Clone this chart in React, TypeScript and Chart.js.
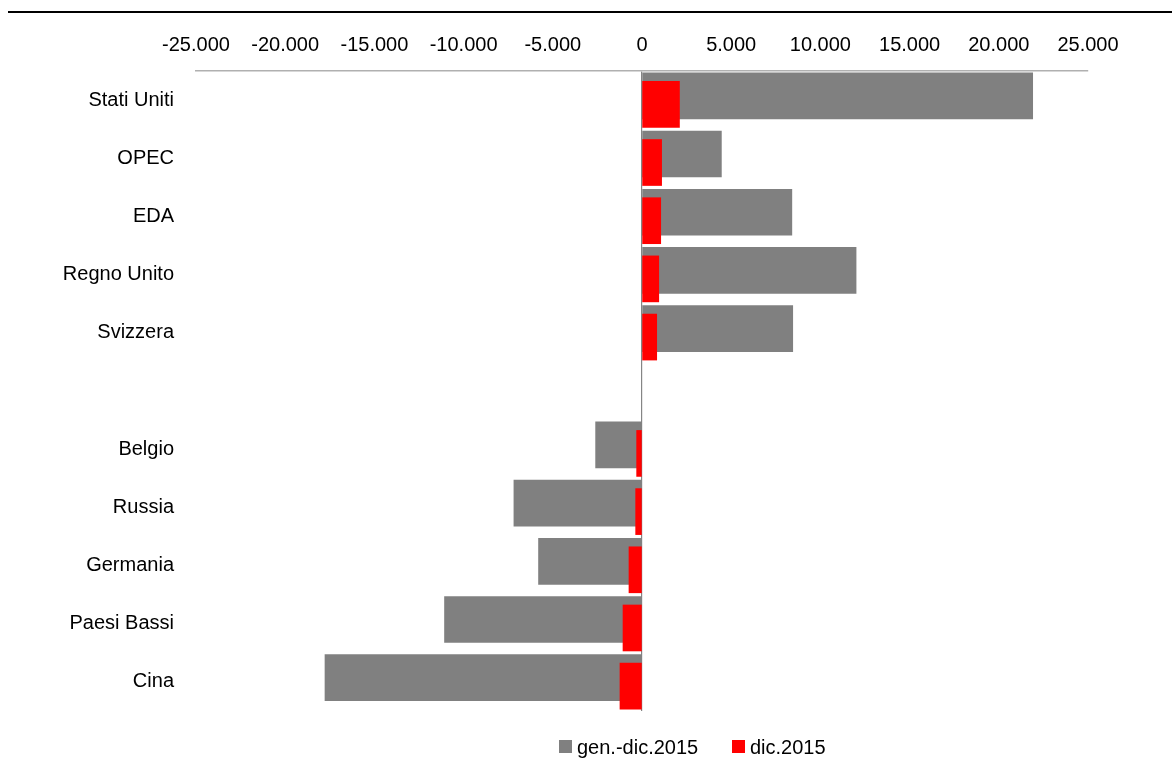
import React, { useEffect, useRef } from "react";
import { Chart, registerables } from "chart.js";

Chart.register(...registerables);

const categories = [
  "Stati Uniti",
  "OPEC",
  "EDA",
  "Regno Unito",
  "Svizzera",
  "",
  "Belgio",
  "Russia",
  "Germania",
  "Paesi Bassi",
  "Cina",
];
const genDic2015: (number | null)[] = [21900, 4450, 8400, 12000, 8450, null, -2600, -7180, -5800, -11070, -17770];
const dic2015: (number | null)[] = [2100, 1100, 1050, 940, 825, null, -300, -355, -730, -1065, -1235];
const seriesNames = ["gen.-dic.2015", "dic.2015"];
const seriesColors = ["#808080", "#ff0000"];
const xTickMin = -25000;
const xTickMax = 25000;
const xTickStep = 5000;

const FONT = "'Liberation Sans', Arial, sans-serif";

function fmt(v: number): string {
  const s = Math.abs(v).toString().replace(/\B(?=(\d{3})+(?!\d))/g, ".");
  return (v < 0 ? "-" : "") + s;
}

function toPoints(values: (number | null)[], shift: number) {
  const pts: { x: number; y: number }[] = [];
  values.forEach((v, i) => {
    if (v !== null) pts.push({ x: v, y: i + shift });
  });
  return pts;
}

export default function App() {
  const canvasRef = useRef<HTMLCanvasElement | null>(null);

  useEffect(() => {
    document.body.style.margin = "0";
    const canvas = canvasRef.current;
    if (!canvas) return;
    const chart = new Chart(canvas, {
      type: "bar",
      data: {
        datasets: [
          {
            label: seriesNames[0],
            data: toPoints(genDic2015, -0.073),
            backgroundColor: seriesColors[0],
            borderWidth: 0,
            barThickness: 46,
            grouped: false,
            order: 1,
          } as any,
          {
            label: seriesNames[1],
            data: toPoints(dic2015, 0.073),
            backgroundColor: seriesColors[1],
            borderWidth: 0,
            barThickness: 46,
            grouped: false,
            order: 0,
          } as any,
        ],
      },
      options: {
        indexAxis: "y",
        animation: false,
        responsive: false,
        maintainAspectRatio: false,
        layout: { padding: { top: 0, left: 0, right: 84, bottom: 58 } },
        plugins: {
          legend: { display: false },
          tooltip: { enabled: false },
        },
        scales: {
          x: {
            type: "linear",
            position: "top",
            min: xTickMin,
            max: xTickMax,
            afterFit: (axis: any) => {
              axis.height = 71;
            },
            ticks: {
              stepSize: xTickStep,
              padding: 14,
              color: "#000",
              font: { family: FONT, size: 20 },
              callback: (v: any) => fmt(Number(v)),
              maxRotation: 0,
            },
            grid: {
              display: true,
              drawTicks: false,
              color: (ctx: any) => (ctx.tick && ctx.tick.value === 0 ? "#858585" : "rgba(0,0,0,0)"),
              lineWidth: 1.2,
            },
            border: { display: true, color: "#b0b0b0", width: 1.5 },
          },
          y: {
            type: "linear",
            offset: false,
            min: -0.5,
            max: categories.length - 0.5,
            reverse: true,
            afterFit: (axis: any) => {
              axis.width = 196;
            },
            afterBuildTicks: (axis: any) => {
              axis.ticks = categories.map((_, i) => ({ value: i }));
            },
            ticks: {
              autoSkip: false,
              padding: 14,
              color: "#000",
              font: { family: FONT, size: 20 },
              callback: (v: any) => categories[Math.round(Number(v))] ?? "",
            },
            grid: { display: false, offset: false },
            border: { display: false },
          },
        },
      } as any,
    });
    return () => chart.destroy();
  }, []);

  const legendText: React.CSSProperties = {
    position: "absolute",
    top: 735,
    fontFamily: FONT,
    fontSize: 20,
    lineHeight: "24px",
    color: "#000",
    whiteSpace: "nowrap",
  };
  const box = (left: number, color: string): React.CSSProperties => ({
    position: "absolute",
    top: 740,
    left,
    width: 13,
    height: 13,
    background: color,
  });

  return (
    <div style={{ position: "relative", width: 1172, height: 769, overflow: "hidden", background: "#fff" }}>
      <canvas ref={canvasRef} width={1172} height={769} style={{ position: "absolute", left: 0, top: 0, width: 1172, height: 769 }} />
      <div style={{ position: "absolute", top: 11, left: 8, right: 0, height: 2, background: "#000" }} />
      <div style={box(559, seriesColors[0])} />
      <span style={{ ...legendText, left: 577 }}>{seriesNames[0]}</span>
      <div style={box(732, seriesColors[1])} />
      <span style={{ ...legendText, left: 750 }}>{seriesNames[1]}</span>
    </div>
  );
}
